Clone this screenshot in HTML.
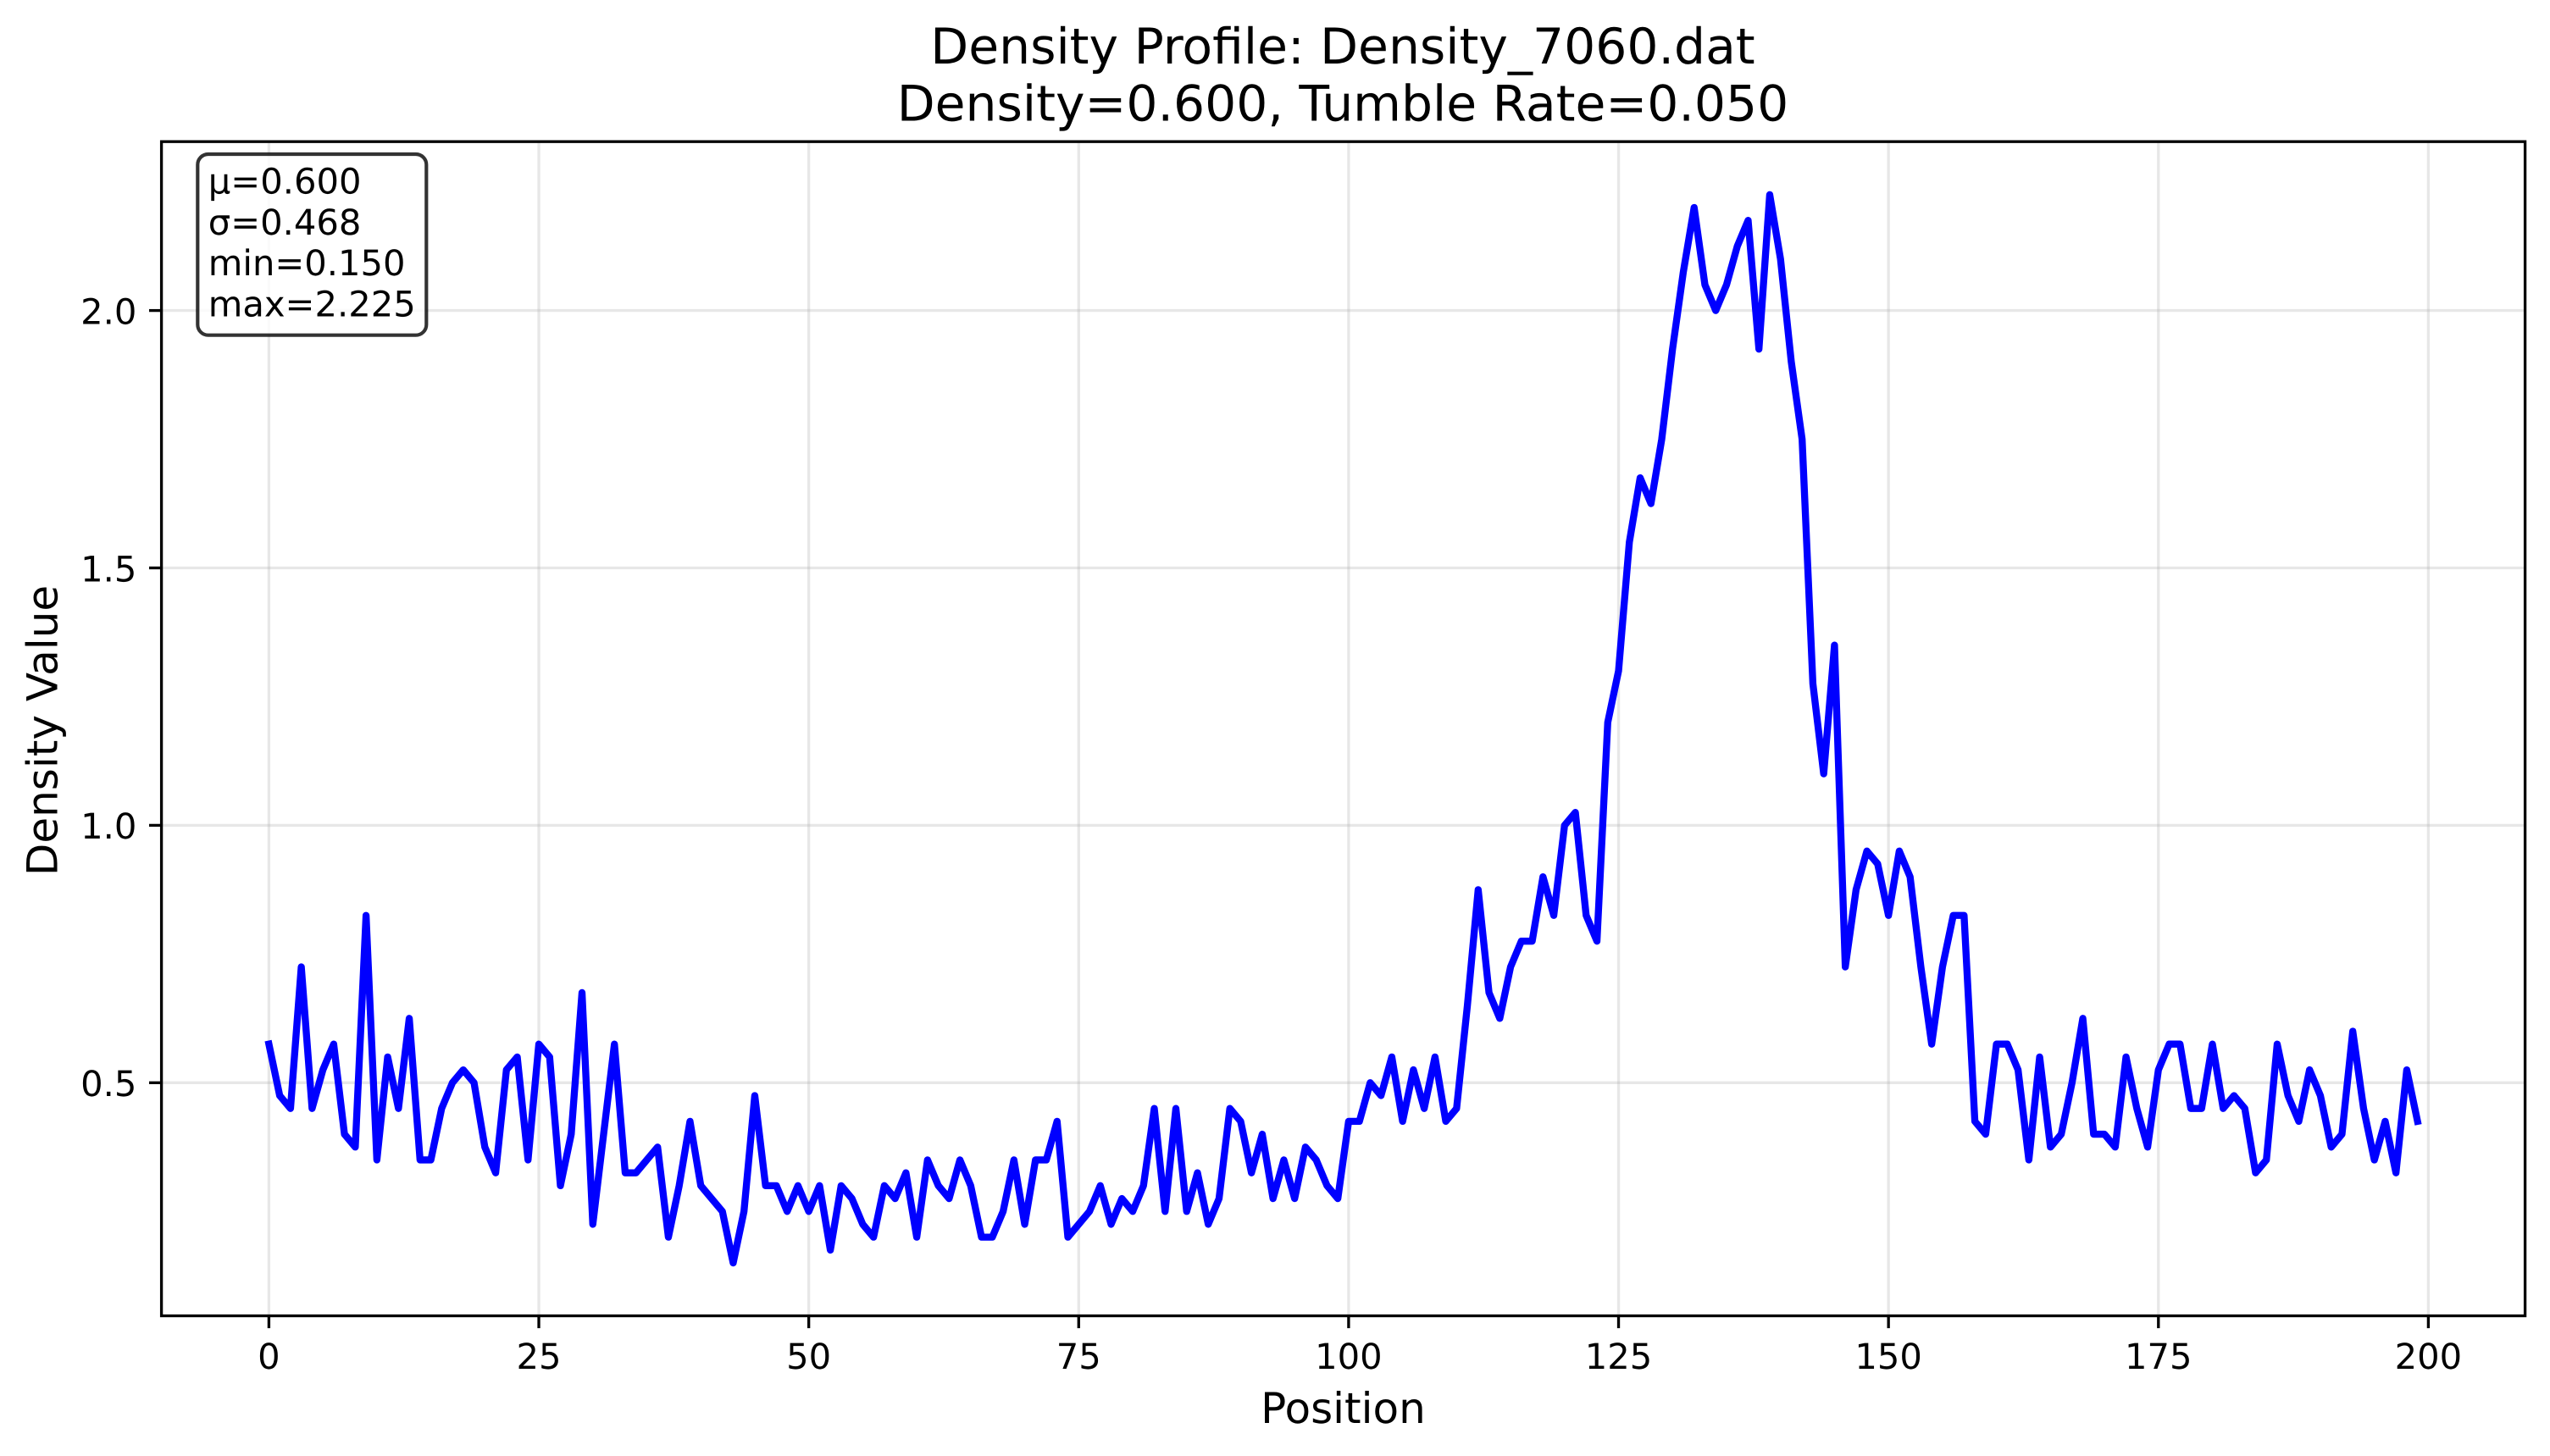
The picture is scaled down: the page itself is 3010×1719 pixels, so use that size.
<!DOCTYPE html>
<html lang="en">
<head>
<meta charset="utf-8">
<title>Density Profile: Density_7060.dat</title>
<style>
html,body{margin:0;padding:0;background:#fff;width:3010px;height:1719px;overflow:hidden}
svg{display:block;font-family:"DejaVu Sans","Liberation Sans",sans-serif;text-rendering:geometricPrecision}
</style>
</head>
<body>
<svg id="chart" xmlns="http://www.w3.org/2000/svg" width="3010" height="1719" viewBox="0 0 3010 1719">
  <rect x="0" y="0" width="3010" height="1719" fill="#ffffff"/>
  <text x="1585" y="75" font-size="58.33" text-anchor="middle" fill="#000">Density Profile: Density_7060.dat</text>
  <text x="1585" y="142.7" font-size="58.33" text-anchor="middle" fill="#000">Density=0.600, Tumble Rate=0.050</text>
  <g id="grid"></g>
  <polyline id="series" fill="none" stroke="#0000ff" stroke-width="8.33" stroke-linejoin="round" stroke-linecap="square"></polyline>
  <g id="ticks"></g>
  <rect x="190.6" y="167.2" width="2790" height="1386.3" fill="none" stroke="#000" stroke-width="3.33" stroke-linejoin="miter"/>
  <g>
    <rect x="233.3" y="182" width="270" height="213.7" rx="12.5" ry="12.5" fill="#fff" fill-opacity="0.8" stroke="#000" stroke-opacity="0.8" stroke-width="4.17"/>
    <text x="245.8" y="228.7" font-size="41.67" fill="#000">μ=0.600</text>
    <text x="245.8" y="276.9" font-size="41.67" fill="#000">σ=0.468</text>
    <text x="245.8" y="325.1" font-size="41.67" fill="#000">min=0.150</text>
    <text x="245.8" y="373.3" font-size="41.67" fill="#000">max=2.225</text>
  </g>
  <text x="1585.5" y="1680" font-size="50" text-anchor="middle" fill="#000">Position</text>
  <text transform="translate(67.5 862.5) rotate(-90)" font-size="50" text-anchor="middle" fill="#000">Density Value</text>
</svg>
<script>
const densityValues = [
0.575,0.475,0.45,0.725,0.45,0.525,0.575,0.4,0.375,0.825,
0.35,0.55,0.45,0.625,0.35,0.35,0.45,0.5,0.525,0.5,
0.375,0.325,0.525,0.55,0.35,0.575,0.55,0.3,0.4,0.675,
0.225,0.4,0.575,0.325,0.325,0.35,0.375,0.2,0.3,0.425,
0.3,0.275,0.25,0.15,0.25,0.475,0.3,0.3,0.25,0.3,
0.25,0.3,0.175,0.3,0.275,0.225,0.2,0.3,0.275,0.325,
0.2,0.35,0.3,0.275,0.35,0.3,0.2,0.2,0.25,0.35,
0.225,0.35,0.35,0.425,0.2,0.225,0.25,0.3,0.225,0.275,
0.25,0.3,0.45,0.25,0.45,0.25,0.325,0.225,0.275,0.45,
0.425,0.325,0.4,0.275,0.35,0.275,0.375,0.35,0.3,0.275,
0.425,0.425,0.5,0.475,0.55,0.425,0.525,0.45,0.55,0.425,
0.45,0.65,0.875,0.675,0.625,0.725,0.775,0.775,0.9,0.825,
1.0,1.025,0.825,0.775,1.2,1.3,1.55,1.675,1.625,1.75,
1.925,2.075,2.2,2.05,2.0,2.05,2.125,2.175,1.925,2.225,
2.1,1.9,1.75,1.275,1.1,1.35,0.725,0.875,0.95,0.925,
0.825,0.95,0.9,0.725,0.575,0.725,0.825,0.825,0.425,0.4,
0.575,0.575,0.525,0.35,0.55,0.375,0.4,0.5,0.625,0.4,
0.4,0.375,0.55,0.45,0.375,0.525,0.575,0.575,0.45,0.45,
0.575,0.45,0.475,0.45,0.325,0.35,0.575,0.475,0.425,0.525,
0.475,0.375,0.4,0.6,0.45,0.35,0.425,0.325,0.525,0.425
];
const xTickValues = [0,25,50,75,100,125,150,175,200];
const xTickLabels = ["0","25","50","75","100","125","150","175","200"];
const yTickValues = [0.5,1.0,1.5,2.0];
const yTickLabels = ["0.5","1.0","1.5","2.0"];

const NS = "http://www.w3.org/2000/svg";
const plotLeft = 190.6, plotRight = 2980.6, plotTop = 167.2, plotBottom = 1553.5;
function xScale(v){ return 317.4 + v * 12.745; }
function yScale(v){ return 1278.3 - (v - 0.5) * 607.8; }

const gridGroup = document.getElementById("grid");
const tickGroup = document.getElementById("ticks");

function makeLine(x1, y1, x2, y2){
  const l = document.createElementNS(NS, "line");
  l.setAttribute("x1", x1);
  l.setAttribute("y1", y1);
  l.setAttribute("x2", x2);
  l.setAttribute("y2", y2);
  l.setAttribute("stroke-width", "3.33");
  return l;
}

xTickValues.forEach(function(v, i){
  const x = xScale(v);
  const g = makeLine(x, plotTop, x, plotBottom);
  g.setAttribute("stroke", "#b0b0b0");
  g.setAttribute("stroke-opacity", "0.3");
  
  
  gridGroup.appendChild(g);
  const t = makeLine(x, plotBottom, x, plotBottom + 14.6);
  t.setAttribute("stroke", "#000");
  
  
  tickGroup.appendChild(t);
  const s = document.createElementNS(NS, "text");
  s.setAttribute("x", x);
  s.setAttribute("y", 1616);
  s.setAttribute("font-size", "41.67");
  s.setAttribute("text-anchor", "middle");
  
  
  s.textContent = xTickLabels[i];
  tickGroup.appendChild(s);
});

yTickValues.forEach(function(v, i){
  const y = yScale(v);
  const g = makeLine(plotLeft, y, plotRight, y);
  g.setAttribute("stroke", "#b0b0b0");
  g.setAttribute("stroke-opacity", "0.3");
  
  
  gridGroup.appendChild(g);
  const t = makeLine(plotLeft - 14.6, y, plotLeft, y);
  t.setAttribute("stroke", "#000");
  
  
  tickGroup.appendChild(t);
  const s = document.createElementNS(NS, "text");
  s.setAttribute("x", plotLeft - 29.2);
  s.setAttribute("y", y + 15.8);
  s.setAttribute("font-size", "41.67");
  s.setAttribute("text-anchor", "end");
  
  
  s.textContent = yTickLabels[i];
  tickGroup.appendChild(s);
});

document.getElementById("series").setAttribute("points",
  densityValues.map(function(v, i){ return xScale(i).toFixed(2) + "," + yScale(v).toFixed(2); }).join(" "));
</script>
</body>
</html>
